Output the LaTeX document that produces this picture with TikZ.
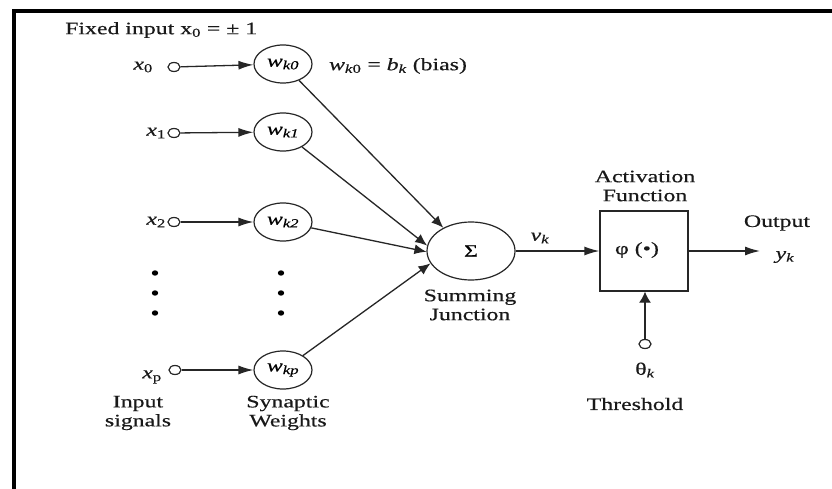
\documentclass[tikz,border=0pt]{standalone}
\usepackage{fontspec}
\setmainfont{Liberation Serif}[FakeStretch=1.36,FakeBold=0.4]
\usetikzlibrary{arrows.meta,shapes.geometric}
\tikzset{
  txt/.style={font=\fontsize{17.5}{19}\selectfont, inner sep=0pt, text=black!90, align=center},
  inp/.style={draw=black!85, line width=1.2pt, ellipse, minimum width=12pt, minimum height=9pt, inner sep=0pt},
  wt/.style={draw=black!85, line width=1.2pt, ellipse, minimum width=58pt, minimum height=38pt, inner sep=0pt, font=\fontsize{17.5}{19}\selectfont},
  arr/.style={draw=black!85, line width=1.3pt, -{Latex[length=15pt,width=9pt]}},
  darr/.style={draw=black!85, line width=1.3pt, -{Latex[length=12pt,width=10pt]}},
  vdot/.style={fill=black}
}
\begin{document}
\begin{tikzpicture}[x=1pt,y=-1pt]
\useasboundingbox (0,0) rectangle (832,489);
\fill[white] (0,0) rectangle (832,489);
% frame
\draw[line width=4pt] (13.5,489) -- (13.5,11) -- (832,11);

\node[txt, anchor=west] (fixed) at (65,30) {Fixed input x\textsubscript{0} = ± 1};

% inputs
\node[txt, anchor=east] (lx0) at (153,67) {\textit{x}\textsubscript{0}};
\node[txt, anchor=east] (lx1) at (166,133) {\textit{x}\textsubscript{1}};
\node[txt, anchor=east] (lx2) at (166,222) {\textit{x}\textsubscript{2}};
\node[txt] (lxp) at (152,377) {\textit{x}\textsubscript{p}};

\node[inp] (i0) at (174,67) {};
\node[inp] (i1) at (174,133) {};
\node[inp] (i2) at (174,222) {};
\node[inp] (ip) at (175,370) {};

% weights
\node[wt] (w0) at (283,64) {\textit{w}\textsubscript{\textit{k0}}};
\node[wt] (w1) at (283,132) {\textit{w}\textsubscript{\textit{k1}}};
\node[wt] (w2) at (283,222) {\textit{w}\textsubscript{\textit{k2}}};
\node[wt] (wp) at (283,370) {\textit{w}\textsubscript{\textit{kp}}};

\draw[arr] (i0) -- (w0);
\draw[arr] (i1) -- (w1);
\draw[arr] (i2) -- (w2);
\draw[arr] (ip) -- (wp);

% dots
\foreach \yy in {273,293,313}{
  \fill[vdot] (155,\yy) ellipse[x radius=3.2pt, y radius=2.7pt];
  \fill[vdot] (281,\yy) ellipse[x radius=3.2pt, y radius=2.7pt];
}

\node[txt] (bias) at (398,66) {\textit{w}\textsubscript{\textit{k}0} = \textit{b}\textsubscript{\textit{k}} (bias)};

\node[txt] (lin) at (138,413) {Input\\signals};
\node[txt] (lsw) at (288,413) {Synaptic\\Weights};

% summing junction
\node[draw=black!85, line width=1.2pt, ellipse, minimum width=88pt, minimum height=58pt, inner sep=0pt, font=\fontsize{17.5}{19}\selectfont] (sum) at (471,251) {Σ};
\node[txt] (lsum) at (470,305) {Summing\\Junction};

\draw[darr] (w0) -- (sum.140);
\draw[darr] (w1) -- (sum.173);
\draw[darr] (w2) -- (sum.181);
\draw[darr] (wp) -- (sum.197);

\node[txt] (vk) at (540,238) {\textit{v}\textsubscript{\textit{k}}};

% activation
\node[draw=black!85, line width=1.3pt, minimum width=88pt, minimum height=80pt, inner sep=0pt] (act) at (644,251) {};
\node[txt] (phi) at (637,250) {φ (•)};
\node[txt] (lact) at (645,186) {Activation\\Function};
\draw[arr] (sum) -- (act);

\coordinate (out) at (760,251);
\draw[arr] (act) -- (out);
\node[txt] (lout) at (777,223) {Output};
\node[txt] (yk) at (785,257) {\textit{y}\textsubscript{\textit{k}}};

% threshold
\node[inp] (th) at (645,344) {};
\draw[draw=black!85, line width=1.3pt, -{Latex[length=11pt,width=12pt]}] (th) -- (th |- act.south);
\node[txt] (thk) at (645,370) {θ\textsubscript{\textit{k}}};
\node[txt] (lth) at (635,404) {Threshold};
\end{tikzpicture}
\end{document}
